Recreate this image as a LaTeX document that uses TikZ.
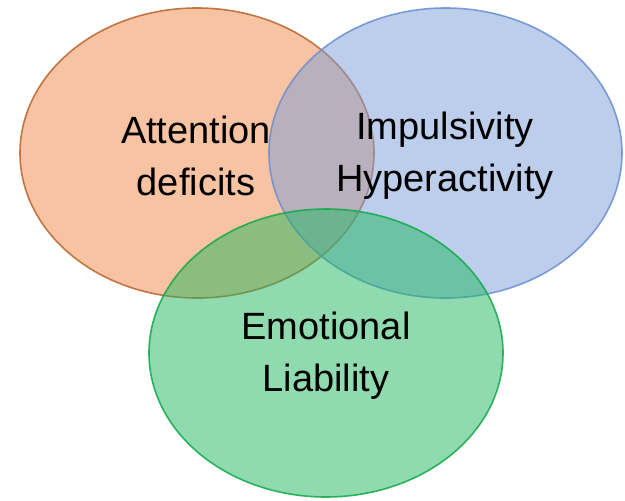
\documentclass[tikz,border=0pt]{standalone}
\usepackage{fontspec}
\setmainfont{Liberation Sans}
\begin{document}
\begin{tikzpicture}[x=1pt,y=-1pt,
  setbox/.style={line width=1.6pt, fill opacity=0.5, draw opacity=0.85},
  label/.style={align=center, text=black, font=\fontsize{38}{52}\selectfont, inner sep=0pt}]
\definecolor{orfill}{HTML}{F08848}
\definecolor{ordraw}{HTML}{B8642C}
\definecolor{blfill}{HTML}{7A9ED8}
\definecolor{bldraw}{HTML}{6A8ED0}
\definecolor{grfill}{HTML}{20B860}
\definecolor{grdraw}{HTML}{10A848}
\useasboundingbox[fill=white] (0,0) rectangle (625,501);
\path[setbox, fill=orfill, draw=ordraw] (197,153) ellipse [x radius=177, y radius=145];
\path[setbox, fill=blfill, draw=bldraw] (445.5,153) ellipse [x radius=176.5, y radius=145];
\path[setbox, fill=grfill, draw=grdraw] (326,353) ellipse [x radius=177, y radius=144];
\node[label] (att) at (196,156) {Attention\\deficits};
\node[label] (imp) at (445,156) {Impulsivity\\Hyperactivity};
\node[label] (emo) at (326,356) {Emotional\\Liability};
\end{tikzpicture}
\end{document}
